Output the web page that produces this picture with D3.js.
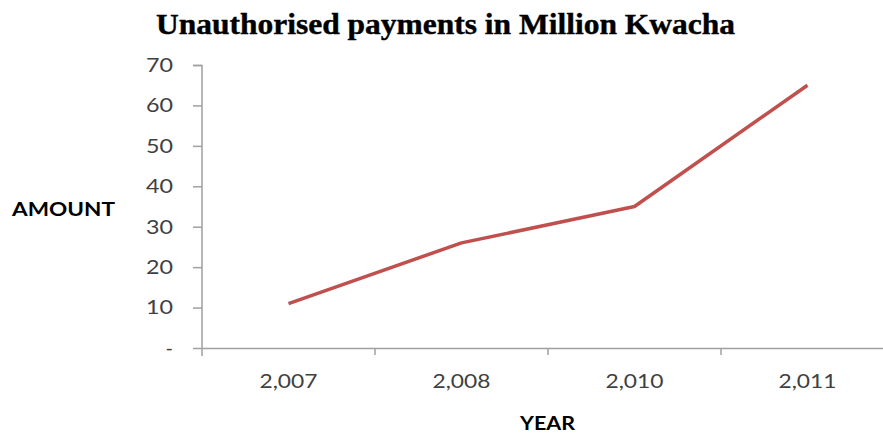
<!DOCTYPE html>
<html><head><meta charset="utf-8">
<script src="https://cdn.jsdelivr.net/npm/d3@7"></script>
<style>body{margin:0;background:#fff}svg{display:block}</style>
</head><body>
<script>
const years = ["2,007", "2,008", "2,010", "2,011"];
const amounts = [11, 26, 35, 65];
const yTicks = [0, 10, 20, 30, 40, 50, 60, 70];
const title = "Unauthorised payments in Million Kwacha";

const W = 883, H = 434;
const svg = d3.select("body").append("svg").attr("width", W).attr("height", H);

const x = d3.scaleBand().domain(years).range([202, 894]).padding(0);
const y = d3.scaleLinear().domain([0, 70]).range([348, 65]);

const sans = "Lato, Carlito, sans-serif";

// title
svg.append("text").attr("x", 445.5).attr("y", 34).attr("text-anchor", "middle")
  .attr("font-family", "Liberation Serif, Times New Roman, serif").attr("font-weight", "bold")
  .attr("font-size", 30).attr("fill", "#000").attr("stroke", "#000").attr("stroke-width", 0.4)
  .attr("textLength", 579).attr("lengthAdjust", "spacingAndGlyphs").text(title);

// y axis
const yAxis = d3.axisLeft(y).tickValues(yTicks).tickSize(9).tickPadding(20)
  .tickFormat(d => d === 0 ? "-" : d);
const gy = svg.append("g").attr("transform", "translate(202,0)").call(yAxis);
gy.select(".domain").attr("stroke", "#a0a0a0").attr("stroke-width", 1.5)
  .attr("d", "M-9,65.5H0V356");
gy.selectAll(".tick line").attr("stroke", "#a0a0a0").attr("stroke-width", 1.5);
gy.selectAll(".tick text").attr("font-family", sans)
  .attr("font-size", 20).attr("fill", "#404040")
  .each(function(d) { if (d !== 0) d3.select(this).attr("textLength", 27).attr("lengthAdjust", "spacingAndGlyphs"); });

// x axis
const xAxis = d3.axisBottom(x).tickSize(0).tickPadding(26);
const gx = svg.append("g").attr("transform", "translate(0,348)").call(xAxis);
gx.select(".domain").attr("stroke", "#a0a0a0").attr("stroke-width", 1.5);
gx.selectAll(".tick text").attr("font-family", sans)
  .attr("font-size", 20).attr("fill", "#404040")
  .attr("textLength", 58).attr("lengthAdjust", "spacingAndGlyphs");
// category boundary ticks
const bounds = years.map(c => x(c)).slice(1);
gx.selectAll("line.bt").data(bounds).enter().append("line").attr("class", "bt")
  .attr("x1", d => d).attr("x2", d => d).attr("y1", 0).attr("y2", 7)
  .attr("stroke", "#a0a0a0").attr("stroke-width", 1.5);

// line
const line = d3.line().x((d, i) => x(years[i]) + x.bandwidth() / 2).y(d => y(d));
svg.append("path").datum(amounts).attr("d", line).attr("fill", "none")
  .attr("stroke", "#c0504d").attr("stroke-width", 3.5).attr("stroke-linejoin", "round");

// axis titles
svg.append("text").attr("x", 63.5).attr("y", 216).attr("text-anchor", "middle")
  .attr("font-family", sans).attr("font-weight", "bold")
  .attr("font-size", 19).attr("fill", "#000")
  .attr("textLength", 103).attr("lengthAdjust", "spacingAndGlyphs").text("AMOUNT");
svg.append("text").attr("x", 547.5).attr("y", 430).attr("text-anchor", "middle")
  .attr("font-family", sans).attr("font-weight", "bold")
  .attr("font-size", 19).attr("fill", "#000")
  .attr("textLength", 55).attr("lengthAdjust", "spacingAndGlyphs").text("YEAR");
</script>
</body></html>
